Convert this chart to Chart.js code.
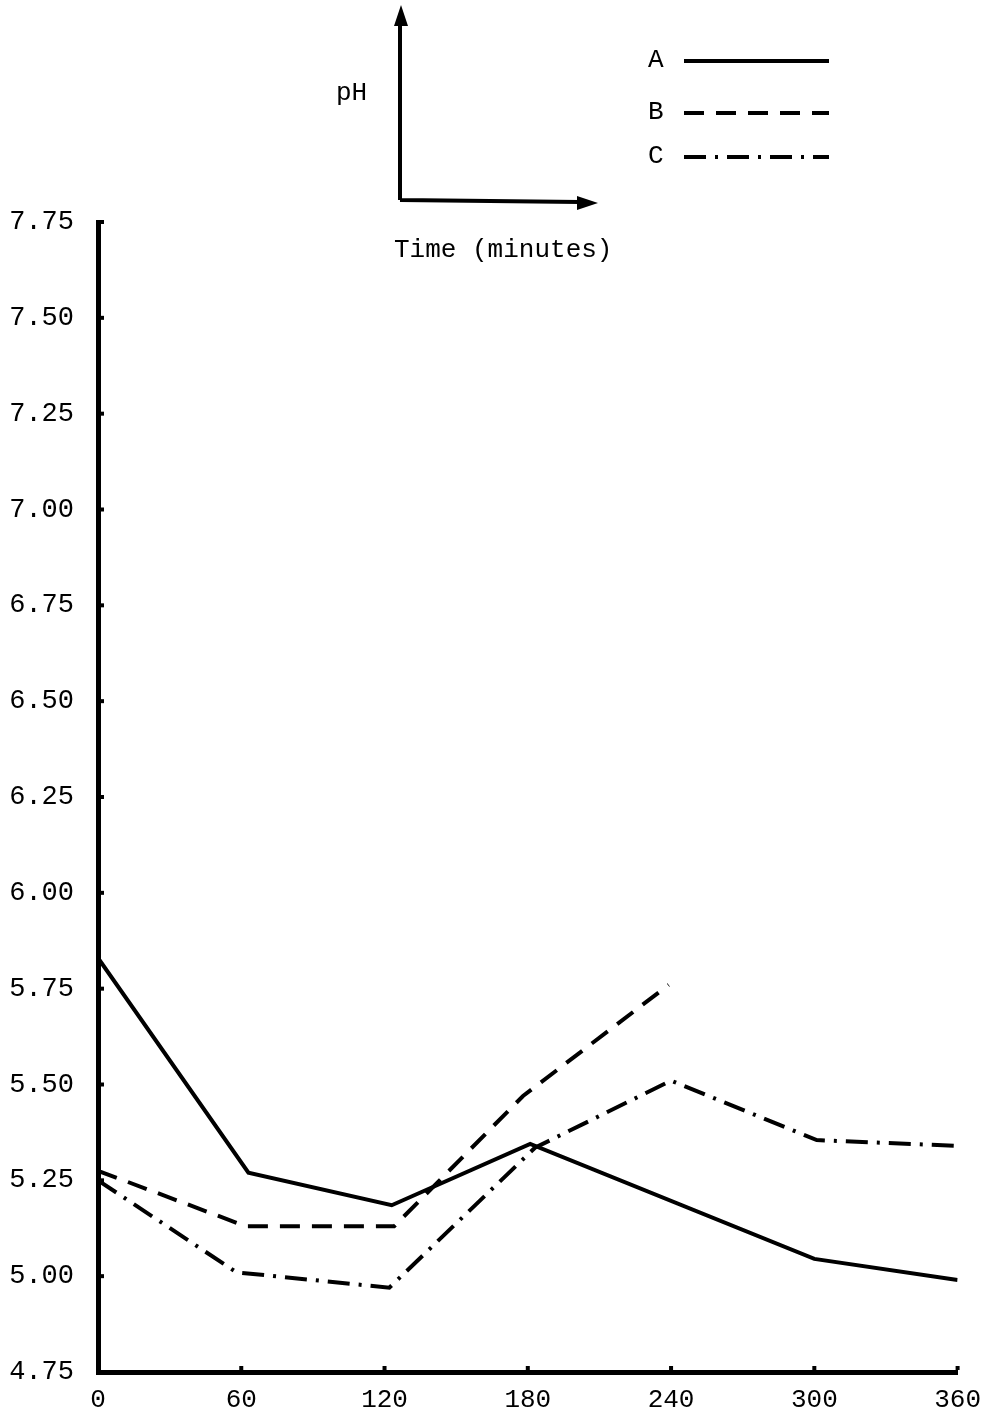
<!DOCTYPE html>
<html>
<head>
<meta charset="utf-8">
<script src="https://cdn.jsdelivr.net/npm/chart.js@4/dist/chart.umd.min.js"></script>
<style>
  body { margin: 0; background: #fff; }
  canvas { display: block; }
</style>
</head>
<body>
<canvas id="phChart" width="994" height="1417"></canvas>
<script>
"use strict";

// time in minutes, pH readings per run
const timesA = [0, 63, 123, 181, 300, 360];
const phA = [5.83, 5.27, 5.185, 5.345, 5.045, 4.99];
const timesB = [0, 62, 124, 178, 239];
const phB = [5.275, 5.13, 5.13, 5.47, 5.76];
const timesC = [0, 58, 122, 183, 240, 301, 360];
const phC = [5.25, 5.01, 4.97, 5.335, 5.51, 5.355, 5.34];

const seriesNames = ["A", "B", "C"];
const dashes = [[], [20, 12], [22, 9, 3, 9]];

const FONT = "Liberation Mono";

function toPoints(xs, ys) {
  let pts = [];
  for (let i = 0; i < xs.length; i++) {
    pts.push({ x: xs[i], y: ys[i] });
  }
  return pts;
}

// small nubs on the inside of the axes at every tick
const nubPlugin = {
  id: "nubs",
  afterDraw(chart) {
    const ctx = chart.ctx;
    const xs = chart.scales.x;
    const ys = chart.scales.y;
    ctx.save();
    ctx.fillStyle = "#000";
    ys.ticks.forEach((t) => {
      const py = ys.getPixelForValue(t.value);
      ctx.fillRect(xs.left + 2, py - 2, 4, 4);
    });
    xs.ticks.forEach((t) => {
      if (t.value === 0) return;
      const px = xs.getPixelForValue(t.value);
      ctx.fillRect(px - 2, ys.bottom - 6, 4, 4);
    });
    ctx.restore();
  }
};

// draws the little pH/time key and the A B C legend above the plot
const headerPlugin = {
  id: "header",
  afterDraw(chart) {
    const ctx = chart.ctx;
    ctx.save();
    ctx.strokeStyle = "#000";
    ctx.fillStyle = "#000";
    ctx.lineWidth = 4;
    ctx.lineCap = "butt";

    // axes key
    ctx.beginPath();
    ctx.moveTo(400, 200);
    ctx.lineTo(400, 22);
    ctx.moveTo(400, 200);
    ctx.lineTo(580, 202);
    ctx.stroke();
    ctx.beginPath();
    ctx.moveTo(401, 5);
    ctx.lineTo(394, 26);
    ctx.lineTo(408, 26);
    ctx.closePath();
    ctx.fill();
    ctx.beginPath();
    ctx.moveTo(598, 203);
    ctx.lineTo(577, 196);
    ctx.lineTo(577, 210);
    ctx.closePath();
    ctx.fill();

    ctx.font = "26px '" + FONT + "'";
    ctx.textBaseline = "middle";
    ctx.textAlign = "left";
    ctx.fillText("pH", 336, 93);
    ctx.fillText("Time (minutes)", 394, 250);

    // legend from datasets
    const rowsY = [60, 112, 156];
    chart.data.datasets.forEach((ds, i) => {
      ctx.fillText(ds.label, 648, rowsY[i]);
      ctx.setLineDash(ds.borderDash);
      ctx.beginPath();
      ctx.moveTo(684, rowsY[i] + 1);
      ctx.lineTo(829, rowsY[i] + 1);
      ctx.stroke();
    });
    ctx.restore();
  }
};

const allTimes = [timesA, timesB, timesC];
const allPh = [phA, phB, phC];
const datasets = [];
for (let i = 0; i < seriesNames.length; i++) {
  datasets.push({
    label: seriesNames[i],
    data: toPoints(allTimes[i], allPh[i]),
    borderColor: "#000",
    borderWidth: 4,
    borderDash: dashes[i],
    pointRadius: 0,
    tension: 0,
    fill: false
  });
}

const config = {
  type: "line",
  data: { datasets: datasets },
  options: {
    responsive: false,
    animation: false,
    layout: { padding: { top: 222, right: 34, left: 0, bottom: 0 } },
    plugins: {
      legend: { display: false },
      tooltip: { enabled: false }
    },
    scales: {
      x: {
        type: "linear",
        min: 0,
        max: 360,
        afterFit(scale) { scale.height = 45; },
        border: { display: true, width: 5, color: "#000" },
        grid: { drawOnChartArea: false, drawTicks: false },
        ticks: {
          stepSize: 60,
          padding: 13,
          color: "#000",
          font: { family: FONT, size: 26 }
        }
      },
      y: {
        min: 4.75,
        max: 7.75,
        afterFit(scale) { scale.width = 98; },
        border: { display: true, width: 5, color: "#000" },
        grid: { drawOnChartArea: false, drawTicks: false },
        ticks: {
          stepSize: 0.25,
          padding: 24,
          color: "#000",
          font: { family: FONT, size: 27 },
          callback: (v) => v.toFixed(2)
        }
      }
    }
  },
  plugins: [headerPlugin, nubPlugin]
};

const phChart = new Chart(document.getElementById("phChart"), config);
</script>
</body>
</html>
